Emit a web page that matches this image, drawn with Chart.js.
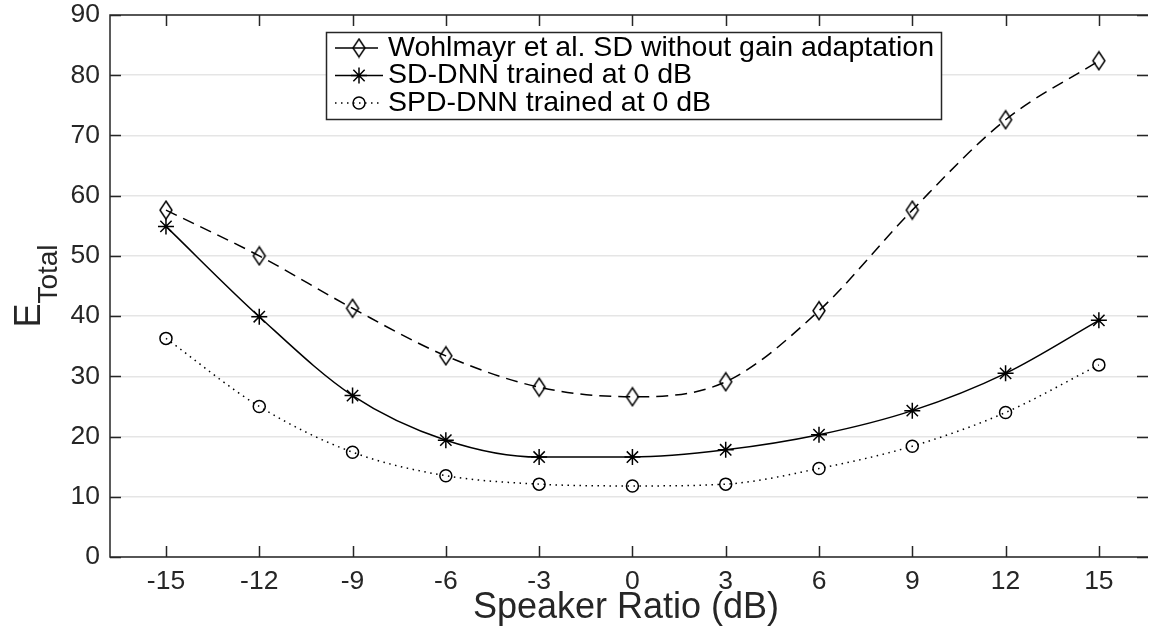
<!DOCTYPE html>
<html>
<head>
<meta charset="utf-8">
<script src="https://cdn.jsdelivr.net/npm/chart.js@4.4.1/dist/chart.umd.min.js"></script>
<style>
  html, body { margin: 0; padding: 0; background: #fff; overflow: hidden; }
  #wrap { width: 1149px; height: 632px; }
</style>
</head>
<body>
<div id="wrap"><canvas id="errChart" width="1149" height="632"></canvas></div>
<script>
// speaker ratio in dB and total error per system
const speakerRatio = [-15, -12, -9, -6, -3, 0, 3, 6, 9, 12, 15];
const wohlmayrSD = [57.6, 50.0, 41.3, 33.4, 28.2, 26.6, 29.1, 40.9, 57.6, 72.6, 82.4];
const sdDnn = [54.9, 39.9, 26.8, 19.4, 16.6, 16.6, 17.8, 20.3, 24.3, 30.5, 39.3];
const spdDnn = [36.3, 25.0, 17.4, 13.5, 12.1, 11.8, 12.1, 14.7, 18.4, 24.0, 31.9];

const seriesLabels = [
    'Wohlmayr et al. SD without gain adaptation',
    'SD-DNN trained at 0 dB',
    'SPD-DNN trained at 0 dB'
];
const xTicks = [-15, -12, -9, -6, -3, 0, 3, 6, 9, 12, 15];
const yTicks = [0, 10, 20, 30, 40, 50, 60, 70, 80, 90];

const axisColor = '#262626';
const fontFamily = '"Liberation Sans", Arial, Helvetica, sans-serif';

// tall open diamond marker, narrower than the built-in rectRot
function diamondMarker(){
    const c = document.createElement('canvas');
    c.width = 16; c.height = 21;
    const g = c.getContext('2d');
    g.strokeStyle = '#000';
    g.lineWidth = 1.5;
    g.beginPath();
    g.moveTo(8, 1.5); g.lineTo(14, 10.5); g.lineTo(8, 19.5); g.lineTo(2, 10.5);
    g.closePath();
    g.stroke();
    return c;
}

function toPoints(values){
    return values.map((v, i) => ({x: speakerRatio[i], y: v}));
}

function makeDataset(label, values, shape, radius, dash, legendDash){
    return {
        label: label,
        data: toPoints(values),
        borderColor: '#000',
        borderWidth: 1.5,
        borderDash: dash,
        legendDash: legendDash,
        cubicInterpolationMode: 'monotone',
        pointStyle: shape,
        pointRadius: radius,
        pointHoverRadius: radius,
        pointBorderColor: '#000',
        pointBackgroundColor: 'rgba(0,0,0,0)',
        pointBorderWidth: 1.5
    };
}

const datasets = [
    makeDataset(seriesLabels[0], wohlmayrSD, diamondMarker(), 8, [12, 7], []),
    makeDataset(seriesLabels[1], sdDnn, 'star', 8, [], []),
    makeDataset(seriesLabels[2], spdDnn, 'circle', 6, [1.5, 4.5], [1.5, 4.5])
];

// box, inward ticks, axis labels and the legend, drawn on top of the chart
const axesDecor = {
    id: 'axesDecor',
    afterDraw(chart){
        const ctx = chart.ctx;
        const a = chart.chartArea;
        const xs = chart.scales.x, ys = chart.scales.y;
        const tick = 11;
        ctx.save();
        ctx.strokeStyle = axisColor;
        ctx.lineWidth = 1.5;
        ctx.setLineDash([]);
        ctx.beginPath();
        xTicks.forEach(v => {
            const px = Math.round(xs.getPixelForValue(v)) + 0.5;
            ctx.moveTo(px, a.bottom); ctx.lineTo(px, a.bottom - tick);
            ctx.moveTo(px, a.top); ctx.lineTo(px, a.top + tick);
        });
        yTicks.forEach(v => {
            const py = Math.round(ys.getPixelForValue(v)) + 0.5;
            ctx.moveTo(a.left, py); ctx.lineTo(a.left + tick, py);
            ctx.moveTo(a.right, py); ctx.lineTo(a.right - tick, py);
        });
        // left, top and bottom edges; the right edge sits just past the canvas
        ctx.moveTo(a.right, a.top); ctx.lineTo(a.left, a.top);
        ctx.lineTo(a.left, a.bottom); ctx.lineTo(a.right, a.bottom);
        ctx.stroke();

        // x label
        ctx.fillStyle = axisColor;
        ctx.font = '36px ' + fontFamily;
        ctx.textAlign = 'center';
        ctx.textBaseline = 'alphabetic';
        ctx.fillText('Speaker Ratio (dB)', 626, 618);

        // y label E_Total, rotated
        const big = '36px ' + fontFamily, small = '28px ' + fontFamily;
        ctx.font = big;
        const wE = ctx.measureText('E').width;
        ctx.font = small;
        const wT = ctx.measureText('Total').width;
        ctx.save();
        ctx.translate(40, (a.top + a.bottom) / 2);
        ctx.rotate(-Math.PI / 2);
        ctx.textAlign = 'left';
        const x0 = -(wE + wT) / 2;
        ctx.font = big;
        ctx.fillText('E', x0, 0);
        ctx.font = small;
        ctx.fillText('Total', x0 + wE, 17);
        ctx.restore();

        // legend
        const box = {left: 326, top: 32, right: 941, bottom: 119};
        ctx.fillStyle = '#fff';
        ctx.fillRect(box.left, box.top, box.right - box.left, box.bottom - box.top);
        ctx.strokeStyle = axisColor;
        ctx.strokeRect(box.left + 0.5, box.top + 0.5, box.right - box.left, box.bottom - box.top);
        const rows = [48, 75.5, 103];
        chart.data.datasets.forEach((ds, i) => {
            const cy = rows[i];
            ctx.strokeStyle = '#000';
            ctx.lineWidth = ds.borderWidth;
            ctx.setLineDash(ds.legendDash);
            ctx.beginPath();
            ctx.moveTo(335, cy); ctx.lineTo(i === 0 ? 378 : 383, cy);
            ctx.stroke();
            ctx.setLineDash([]);
            ctx.fillStyle = 'rgba(0,0,0,0)';
            Chart.helpers.drawPoint(ctx, {
                pointStyle: ds.pointStyle,
                radius: ds.pointRadius,
                rotation: 0,
                borderWidth: ds.pointBorderWidth
            }, 359, cy);
            ctx.fillStyle = '#000';
            ctx.font = '28.5px ' + fontFamily;
            ctx.textAlign = 'left';
            ctx.textBaseline = 'middle';
            ctx.fillText(ds.label, 388, cy);
        });
        ctx.restore();
    }
};

const canvas = document.getElementById('errChart').getContext('2d');
new Chart(canvas, {
    type: 'line',
    data: {datasets: datasets},
    options: {
        responsive: false,
        animation: false,
        devicePixelRatio: 1,
        layout: {autoPadding: false, padding: {top: 15, right: 1, left: 0, bottom: 0}},
        plugins: {
            legend: {display: false},
            tooltip: {enabled: false}
        },
        scales: {
            x: {
                type: 'linear',
                min: -16.8,
                max: 16.58,
                afterBuildTicks: s => { s.ticks = xTicks.map(v => ({value: v})); },
                afterFit: s => { s.height = 632 - 557; s.paddingLeft = 0; s.paddingRight = 0; },
                grid: {display: false, drawTicks: false},
                border: {display: false},
                ticks: {
                    color: axisColor,
                    font: {family: fontFamily, size: 26.5},
                    padding: 9,
                    maxRotation: 0,
                    autoSkip: false
                }
            },
            y: {
                min: 0,
                max: 90,
                afterBuildTicks: s => { s.ticks = yTicks.map(v => ({value: v})); },
                afterFit: s => { s.width = 110; s.paddingTop = 0; s.paddingBottom = 0; },
                grid: {color: '#e5e5e5', lineWidth: 1.5, drawTicks: false},
                border: {display: false},
                ticks: {
                    color: axisColor,
                    font: {family: fontFamily, size: 26.5},
                    padding: 10
                }
            }
        }
    },
    plugins: [axesDecor]
});
</script>
</body>
</html>
